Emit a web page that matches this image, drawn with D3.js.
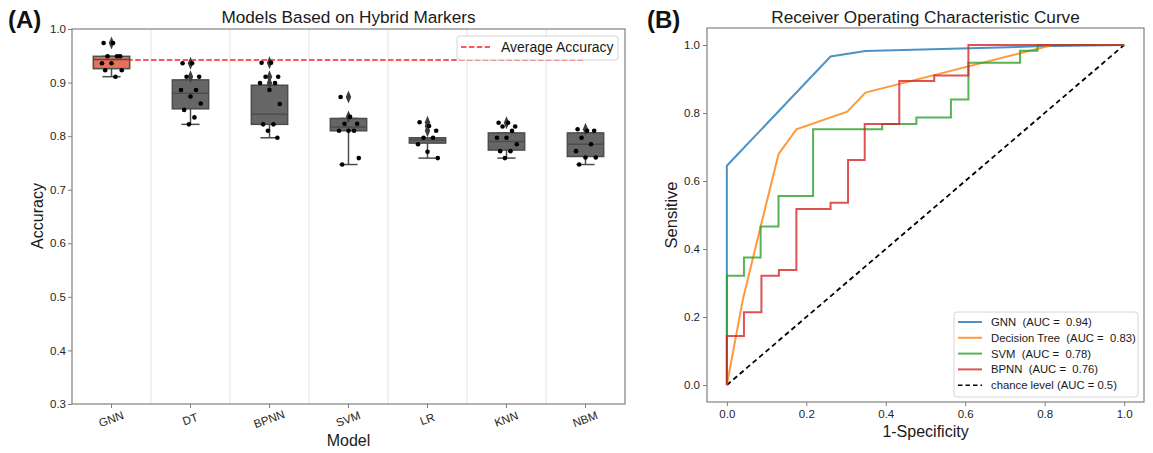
<!DOCTYPE html>
<html>
<head>
<meta charset="utf-8">
<script src="https://cdn.jsdelivr.net/npm/d3@7"></script>
<style>
  body { margin: 0; background: #fff; }
  svg { font-family: "Liberation Sans", Arial, sans-serif; }
</style>
</head>
<body>
<div id="chart"></div>
<script>
// ---- panel A data: accuracy per model (10-fold runs) ----
const models = ['GNN', 'DT', 'BPNN', 'SVM', 'LR', 'KNN', 'NBM'];
const boxQ1 = [0.926, 0.851, 0.822, 0.810, 0.787, 0.774, 0.762];
const boxMedian = [0.943, 0.880, 0.841, 0.817, 0.793, 0.790, 0.785];
const boxQ3 = [0.949, 0.905, 0.895, 0.833, 0.797, 0.806, 0.806];
const whiskerLow = [0.911, 0.822, 0.797, 0.747, 0.759, 0.759, 0.747];
const whiskerHigh = [0.949, 0.905, 0.895, 0.833, 0.797, 0.806, 0.806];
const fliers = [
    [0.974],
    [0.936, 0.911],
    [0.937, 0.911, 0.899],
    [0.873, 0.836],
    [0.826, 0.819, 0.810],
    [0.825],
    [0.813]
];
const runs = [
    [0.974, 0.974, 0.949, 0.949, 0.949, 0.936, 0.936, 0.923, 0.923, 0.911],
    [0.936, 0.936, 0.911, 0.911, 0.886, 0.886, 0.874, 0.861, 0.849, 0.835, 0.822],
    [0.937, 0.937, 0.911, 0.911, 0.899, 0.899, 0.886, 0.860, 0.822, 0.822, 0.810, 0.797],
    [0.873, 0.836, 0.823, 0.823, 0.810, 0.810, 0.810, 0.759, 0.747],
    [0.826, 0.819, 0.810, 0.797, 0.797, 0.785, 0.771, 0.759],
    [0.825, 0.825, 0.818, 0.818, 0.810, 0.797, 0.797, 0.785, 0.772, 0.772, 0.759],
    [0.813, 0.810, 0.810, 0.797, 0.785, 0.772, 0.760, 0.760, 0.747]
];
const averageAccuracy = 0.942;
const accTicks = [0.3, 0.4, 0.5, 0.6, 0.7, 0.8, 0.9, 1.0];

// ---- panel B data: ROC curves ----
const rocNames = ['GNN', 'Decision Tree', 'SVM', 'BPNN'];
const rocAuc = ['0.94', '0.83', '0.78', '0.76'];
const gnnFpr = [0, 0, 0.261, 0.349, 0.78, 1];
const gnnTpr = [0, 0.645, 0.966, 0.982, 0.996, 1];
const dtFpr = [0, 0.04, 0.085, 0.130, 0.175, 0.303, 0.349, 0.82, 1];
const dtTpr = [0, 0.25, 0.466, 0.679, 0.752, 0.804, 0.860, 1, 1];
const svmFpr = [0, 0, 0.043, 0.043, 0.085, 0.085, 0.130, 0.130, 0.217, 0.217, 0.391, 0.391, 0.477, 0.477, 0.564, 0.564, 0.608, 0.608, 0.738, 0.738, 0.782, 0.782, 1];
const svmTpr = [0, 0.321, 0.321, 0.375, 0.375, 0.466, 0.466, 0.556, 0.556, 0.752, 0.752, 0.768, 0.768, 0.787, 0.787, 0.840, 0.840, 0.948, 0.948, 0.983, 0.983, 1, 1];
const bpFpr = [0, 0, 0.043, 0.043, 0.087, 0.087, 0.131, 0.131, 0.175, 0.175, 0.261, 0.261, 0.305, 0.305, 0.347, 0.347, 0.434, 0.434, 0.522, 0.522, 0.608, 0.608, 1];
const bpTpr = [0, 0.144, 0.144, 0.214, 0.214, 0.321, 0.321, 0.338, 0.338, 0.518, 0.518, 0.536, 0.536, 0.662, 0.662, 0.768, 0.768, 0.894, 0.894, 0.910, 0.910, 1, 1];
const rocTicks = [0, 0.2, 0.4, 0.6, 0.8, 1.0];

const W = 1153, H = 453;
const svg = d3.select('#chart').append('svg')
    .attr('width', W)
    .attr('height', H);

const frameColor = '#808080';
const boxEdge = '#4d4d4d';
const textColor = '#1a1a1a';

// ================= Panel A =================
const xA = d3.scaleBand().domain(models).range([72, 625]);
const yA = d3.scaleLinear().domain([0.3, 1.0]).range([404, 29]);
const gA = svg.append('g');

// light vertical grid between categories
models.slice(1).forEach(m => {
    gA.append('line')
        .attr('x1', xA(m)).attr('x2', xA(m))
        .attr('y1', yA(1.0)).attr('y2', yA(0.3))
        .attr('stroke', '#e3e3e3').attr('stroke-width', 1);
});

// average accuracy line (behind the boxes)
gA.append('line')
    .attr('x1', xA(models[0]) + xA.bandwidth() / 2)
    .attr('x2', xA(models[6]) + xA.bandwidth() / 2)
    .attr('y1', yA(averageAccuracy)).attr('y2', yA(averageAccuracy))
    .attr('stroke', '#ff2020').attr('stroke-width', 1.6)
    .attr('stroke-dasharray', '5.5,2.4');

const boxW = xA.bandwidth() * 0.46;
const jitter = [-0.1, 0.02, 0.11, -0.05, 0.07, -0.12, 0.0, 0.13, -0.08, 0.05, -0.02, 0.1];

models.forEach((m, i) => {
    const cx = xA(m) + xA.bandwidth() / 2;
    const g = gA.append('g');
    // whiskers
    g.append('line')
        .attr('x1', cx).attr('x2', cx)
        .attr('y1', yA(whiskerLow[i])).attr('y2', yA(boxQ1[i]))
        .attr('stroke', boxEdge).attr('stroke-width', 1.5);
    g.append('line')
        .attr('x1', cx).attr('x2', cx)
        .attr('y1', yA(whiskerHigh[i])).attr('y2', yA(boxQ3[i]))
        .attr('stroke', boxEdge).attr('stroke-width', 1.5);
    [whiskerLow[i], whiskerHigh[i]].forEach(v => {
        g.append('line')
            .attr('x1', cx - boxW / 4).attr('x2', cx + boxW / 4)
            .attr('y1', yA(v)).attr('y2', yA(v))
            .attr('stroke', boxEdge).attr('stroke-width', 1.5);
    });
    // box
    g.append('rect')
        .attr('x', cx - boxW / 2).attr('width', boxW)
        .attr('y', yA(boxQ3[i]))
        .attr('height', yA(boxQ1[i]) - yA(boxQ3[i]))
        .attr('fill', i === 0 ? '#ea6f5a' : '#666666')
        .attr('stroke', boxEdge).attr('stroke-width', 1.5);
    g.append('line')
        .attr('x1', cx - boxW / 2).attr('x2', cx + boxW / 2)
        .attr('y1', yA(boxMedian[i])).attr('y2', yA(boxMedian[i]))
        .attr('stroke', boxEdge).attr('stroke-width', 1.5);
    // fliers (diamonds)
    g.selectAll('path.flier')
        .data(fliers[i])
        .enter().append('path')
        .attr('class', 'flier')
        .attr('d', d3.symbol(d3.symbolDiamond, 40))
        .attr('transform', d => 'translate(' + cx + ',' + yA(d) + ') scale(0.8,1.1)')
        .attr('fill', '#3d3d3d');
    // strip points
    g.selectAll('circle')
        .data(runs[i])
        .enter().append('circle')
        .attr('cx', (d, j) => cx + jitter[j % jitter.length] * xA.bandwidth())
        .attr('cy', d => yA(d))
        .attr('r', 2.3)
        .attr('fill', '#000');
});

// axes
const axA = gA.append('g').attr('transform', 'translate(72,0)')
    .call(d3.axisLeft(yA).tickValues(accTicks).tickFormat(d3.format('.1f')).tickSize(4));
const axAx = gA.append('g').attr('transform', 'translate(0,404)')
    .call(d3.axisBottom(xA).tickSize(4));
[axA, axAx].forEach(a => {
    a.select('.domain').remove();
    a.selectAll('.tick line').attr('stroke', frameColor).attr('stroke-width', 1);
    a.selectAll('.tick text').attr('fill', '#262626').style('font-size', '11.5px')
        .style('font-family', '"Liberation Sans", Arial, sans-serif');
});
axA.selectAll('.tick text').attr('x', -6);
axAx.selectAll('.tick text')
    .attr('y', 0).attr('dy', 0)
    .attr('transform', 'translate(0,16) rotate(-20)')
    .attr('dominant-baseline', 'middle');

// frame
gA.append('rect')
    .attr('x', 72).attr('y', 29).attr('width', 625 - 72).attr('height', 404 - 29)
    .attr('fill', 'none').attr('stroke', frameColor).attr('stroke-width', 1.2);

// legend A
const legA = gA.append('g');
legA.append('rect')
    .attr('x', 457).attr('y', 36).attr('width', 161).attr('height', 24).attr('rx', 3)
    .attr('fill', 'rgba(255,255,255,0.8)').attr('stroke', '#d6d6d6');
legA.append('line')
    .attr('x1', 461).attr('x2', 490).attr('y1', 47).attr('y2', 47)
    .attr('stroke', '#ff2020').attr('stroke-width', 1.6).attr('stroke-dasharray', '5.5,2.4');
legA.append('text').attr('x', 501).attr('y', 52).text('Average Accuracy')
    .style('font-size', '14px').attr('fill', textColor);

// titles / labels A
svg.append('text').attr('x', 348.5).attr('y', 23).attr('text-anchor', 'middle')
    .style('font-size', '17.2px').attr('fill', textColor).text('Models Based on Hybrid Markers');
svg.append('text').attr('x', 348.5).attr('y', 446).attr('text-anchor', 'middle')
    .style('font-size', '16px').attr('fill', textColor).text('Model');
svg.append('text').attr('transform', 'translate(43,216) rotate(-90)').attr('text-anchor', 'middle')
    .style('font-size', '16px').attr('fill', textColor).text('Accuracy');
svg.append('text').attr('x', 8).attr('y', 28)
    .style('font-size', '24px').style('font-weight', 'bold').attr('fill', '#111').text('(A)');

// ================= Panel B =================
const xB = d3.scaleLinear().domain([-0.05, 1.05]).range([707, 1144]);
const yB = d3.scaleLinear().domain([-0.05, 1.05]).range([402, 28]);
const gB = svg.append('g');

const rocColors = ['#1f77b4', '#ff7f0e', '#2ca02c', '#d62728'];
const rocData = [
    d3.zip(gnnFpr, gnnTpr),
    d3.zip(dtFpr, dtTpr),
    d3.zip(svmFpr, svmTpr),
    d3.zip(bpFpr, bpTpr)
];
const lineB = d3.line().x(d => xB(d[0])).y(d => yB(d[1]));

// chance line
gB.append('path')
    .attr('d', lineB([[0, 0], [1, 1]]))
    .attr('stroke', '#000').attr('stroke-width', 1.8)
    .attr('stroke-dasharray', '5,3.5').attr('fill', 'none');

rocData.forEach((pts, i) => {
    gB.append('path')
        .attr('d', lineB(pts))
        .attr('fill', 'none')
        .attr('stroke', rocColors[i])
        .attr('stroke-opacity', 0.8)
        .attr('stroke-width', 2);
});

const axBy = gB.append('g').attr('transform', 'translate(707,0)')
    .call(d3.axisLeft(yB).tickValues(rocTicks).tickFormat(d3.format('.1f')).tickSize(4));
const axBx = gB.append('g').attr('transform', 'translate(0,402)')
    .call(d3.axisBottom(xB).tickValues(rocTicks).tickFormat(d3.format('.1f')).tickSize(4));
[axBy, axBx].forEach(a => {
    a.select('.domain').remove();
    a.selectAll('.tick line').attr('stroke', frameColor).attr('stroke-width', 1);
    a.selectAll('.tick text').attr('fill', '#262626').style('font-size', '11.5px')
        .style('font-family', '"Liberation Sans", Arial, sans-serif');
});
axBy.selectAll('.tick text').attr('x', -7);
axBx.selectAll('.tick text').attr('y', 8);

gB.append('rect')
    .attr('x', 707).attr('y', 28).attr('width', 1144 - 707).attr('height', 402 - 28)
    .attr('fill', 'none').attr('stroke', frameColor).attr('stroke-width', 1.2);

// legend B
const legB = gB.append('g');
legB.append('rect')
    .attr('x', 954).attr('y', 312).attr('width', 184).attr('height', 85).attr('rx', 3)
    .attr('fill', 'rgba(255,255,255,0.8)').attr('stroke', '#d6d6d6');
const legLabels = rocNames.map((n, i) => n + '  (AUC =  ' + rocAuc[i] + ')')
    .concat(['chance level (AUC = 0.5)']);
legLabels.forEach((t, i) => {
    const yy = 322 + i * 15.8;
    legB.append('line')
        .attr('x1', 958).attr('x2', 982).attr('y1', yy).attr('y2', yy)
        .attr('stroke', i < 4 ? rocColors[i] : '#000')
        .attr('stroke-opacity', i < 4 ? 0.8 : 1)
        .attr('stroke-width', i < 4 ? 2 : 1.6)
        .attr('stroke-dasharray', i < 4 ? null : '4.5,3');
    legB.append('text').attr('x', 991).attr('y', yy + 4).text(t)
        .style('white-space', 'pre')
        .style('font-size', '11.3px').attr('fill', textColor);
});

svg.append('text').attr('x', 925.5).attr('y', 23).attr('text-anchor', 'middle')
    .style('font-size', '17.2px').attr('fill', textColor).text('Receiver Operating Characteristic Curve');
svg.append('text').attr('x', 925.5).attr('y', 437).attr('text-anchor', 'middle')
    .style('font-size', '16px').attr('fill', textColor).text('1-Specificity');
svg.append('text').attr('transform', 'translate(677,215) rotate(-90)').attr('text-anchor', 'middle')
    .style('font-size', '16.5px').attr('fill', textColor).text('Sensitive');
svg.append('text').attr('x', 647).attr('y', 28)
    .style('font-size', '24px').style('font-weight', 'bold').attr('fill', '#111').text('(B)');
</script>
</body>
</html>
